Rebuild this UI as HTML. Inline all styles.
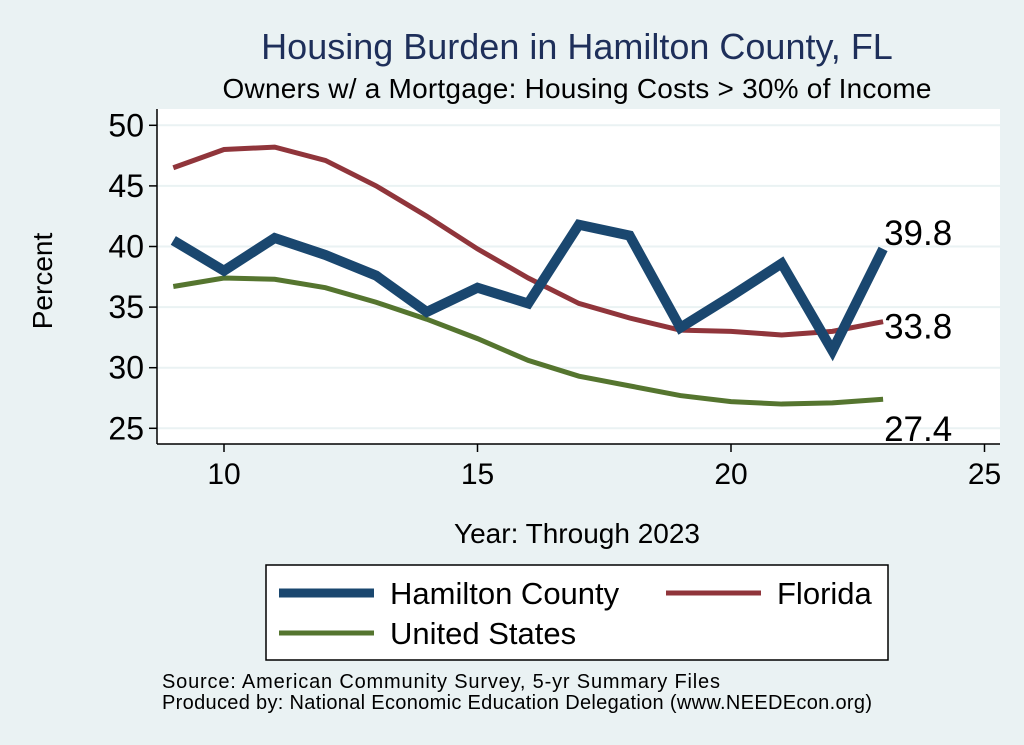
<!DOCTYPE html>
<html><head><meta charset="utf-8"><style>
body{margin:0;background:#eaf2f3;}
svg{display:block;font-family:"Liberation Sans",sans-serif;}
</style></head><body>
<svg width="1024" height="745">
<rect x="0" y="0" width="1024" height="745" fill="#eaf2f3"/>
<rect x="157" y="109" width="843" height="335" fill="#fff"/>
<text x="577" y="59" text-anchor="middle" font-size="36" fill="#1e2f5a">Housing Burden in Hamilton County, FL</text>
<text x="577" y="98" text-anchor="middle" font-size="28" fill="#000" textLength="709">Owners w/ a Mortgage: Housing Costs &gt; 30% of Income</text>
<g id="grid"></g><g id="axes"></g><g id="series"></g>
<text x="52" y="281" text-anchor="middle" font-size="28" transform="rotate(-90 52 281)">Percent</text>
<text x="577" y="543" text-anchor="middle" font-size="28">Year: Through 2023</text>
<rect x="266" y="565" width="622" height="95" fill="#fff" stroke="#000" stroke-width="1.5"/>
<g><line x1="279" y1="593" x2="374" y2="593" stroke="#1a476f" stroke-width="9"/><text x="390" y="604" font-size="31">Hamilton County</text></g>
<g><line x1="666" y1="593" x2="761" y2="593" stroke="#90353b" stroke-width="5"/><text x="777" y="604" font-size="31">Florida</text></g>
<g><line x1="279" y1="633" x2="374" y2="633" stroke="#55752f" stroke-width="5"/><text x="390" y="644" font-size="31">United States</text></g>
<text x="162" y="688" font-size="20" textLength="558">Source: American Community Survey, 5-yr Summary Files</text>
<text x="162" y="709" font-size="20" textLength="710">Produced by: National Economic Education Delegation (www.NEEDEcon.org)</text>
</svg>
<script>
const years=[9,10,11,12,13,14,15,16,17,18,19,20,21,22,23];
const hamilton=[40.5,38.0,40.7,39.3,37.6,34.6,36.6,35.3,41.8,40.9,33.3,35.9,38.6,31.4,39.8];
const florida=[46.5,48.0,48.2,47.1,45.0,42.5,39.8,37.4,35.3,34.1,33.1,33.0,32.7,33.0,33.8];
const us=[36.7,37.4,37.3,36.6,35.4,34.0,32.4,30.6,29.3,28.5,27.7,27.2,27.0,27.1,27.4];
const yTicks=[25,30,35,40,45,50];
const xTicks=[10,15,20,25];
const NS="http://www.w3.org/2000/svg";
const X=v=>224+(v-10)*50.7;
const Y=v=>125.3-(v-50)*12.12;
function mk(t,a,p){const e=document.createElementNS(NS,t);for(const k in a)e.setAttribute(k,a[k]);document.getElementById(p).appendChild(e);return e;}
yTicks.forEach(t=>{
 const g=mk('line',{x1:157,x2:1000,y1:Y(t),y2:Y(t),stroke:'#eaf2f3','stroke-width':2},'grid');
 
 
 const tk=mk('line',{x1:149,x2:157,y1:Y(t),y2:Y(t),stroke:'#000','stroke-width':1.5},'axes');
 
 
 const l=mk('text',{x:144,y:Y(t)+11,'text-anchor':'end','font-size':32},'axes');
 l.textContent=t;
 
 
});
xTicks.forEach(t=>{
 const tk=mk('line',{x1:X(t),x2:X(t),y1:444,y2:452,stroke:'#000','stroke-width':1.5},'axes');
 
 
 const l=mk('text',{x:X(t),y:484,'text-anchor':'middle','font-size':30},'axes');
 l.textContent=t;
 
 
});
const ya=mk('line',{x1:157,x2:157,y1:109,y2:444,stroke:'#000','stroke-width':1.5},'axes');


const xa=mk('line',{x1:157,x2:1000,y1:444,y2:444,stroke:'#000','stroke-width':1.5},'axes');


function series(vals,color,w,name,dy){
 const p=mk('polyline',{points:vals.map((v,i)=>X(years[i])+','+Y(v)).join(' '),fill:'none',stroke:color,'stroke-width':w,'stroke-linejoin':'miter'},'series');
 
 
 const last=vals[vals.length-1];
 const t=mk('text',{x:X(years[years.length-1])+1,y:Y(last)+dy,'font-size':35},'series');
 t.textContent=last.toFixed(1);
 
 
}
series(us,'#55752f',5,'us',42);
series(florida,'#90353b',5,'florida',17);
series(hamilton,'#1a476f',10,'hamilton',-4);
</script>
</body></html>
